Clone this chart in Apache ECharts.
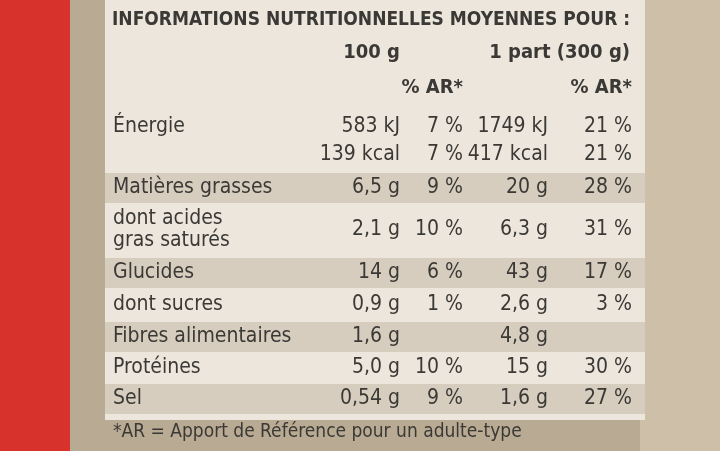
<!DOCTYPE html>
<html><head><meta charset="utf-8">
<script src="https://cdn.jsdelivr.net/npm/echarts@6/dist/echarts.min.js"></script>
<style>html,body{margin:0;padding:0}#c{width:720px;height:451px}</style>
</head><body><div id="c"></div>
<script>
const title = "INFORMATIONS NUTRITIONNELLES MOYENNES POUR :";
const colHeads = ["100 g", "1 part (300 g)"];
const arHead = "% AR*";
const labels = ["Énergie", "", "Matières grasses", "dont acides\ngras saturés", "Glucides", "dont sucres", "Fibres alimentaires", "Protéines", "Sel"];
const per100 = ["583 kJ", "139 kcal", "6,5 g", "2,1 g", "14 g", "0,9 g", "1,6 g", "5,0 g", "0,54 g"];
const ar100 = ["7 %", "7 %", "9 %", "10 %", "6 %", "1 %", "", "10 %", "9 %"];
const perPart = ["1749 kJ", "417 kcal", "20 g", "6,3 g", "43 g", "2,6 g", "4,8 g", "15 g", "1,6 g"];
const arPart = ["21 %", "21 %", "28 %", "31 %", "17 %", "3 %", "", "30 %", "27 %"];
const footnote = "*AR = Apport de Référence pour un adulte-type";

const rowY = [127, 155, 188, 230, 273, 305, 337, 368, 399];
const shade = [false, false, true, false, true, false, true, false, true];
const font = "'Liberation Sans Narrow','DejaVu Sans Condensed','Liberation Sans',sans-serif";
const col = '#3b3935';
const g = [];
g.push({type:'rect',shape:{x:0,y:0,width:720,height:451},style:{fill:'#b9aa93'}});
g.push({type:'rect',shape:{x:0,y:0,width:70,height:451},style:{fill:'#d8322c'}});
g.push({type:'rect',shape:{x:640,y:0,width:80,height:451},style:{fill:'#cdbfa8'}});
g.push({type:'rect',shape:{x:105,y:0,width:540,height:420},style:{fill:'#ece6dc'}});
rowY.forEach((y,i)=>{
  if(shade[i]) g.push({type:'rect',shape:{x:105,y:y-15,width:540,height:30},style:{fill:'#d6cdbf'}});
});
const txt=(x,y,s,align,size,weight)=>g.push({type:'text',x:x,y:y,style:{text:s,fill:col,font:(weight||'normal')+' '+(size||21)+'px '+font,textAlign:align||'left',textVerticalAlign:'middle',lineHeight:22}});
txt(112,20,title,'left',19,'bold');
txt(400,53,colHeads[0],'right',20,'bold');
txt(630,53,colHeads[1],'right',20,'bold');
txt(463,88,arHead,'right',20,'bold');
txt(632,88,arHead,'right',20,'bold');
rowY.forEach((y,i)=>{
  if(labels[i]) txt(113,y,labels[i],'left',21);
  txt(400,y,per100[i],'right',21);
  txt(463,y,ar100[i],'right',21);
  txt(548,y,perPart[i],'right',21);
  txt(632,y,arPart[i],'right',21);
});
txt(113,432,footnote,'left',19);
const chart = echarts.init(document.getElementById('c'));
chart.setOption({animation:false,graphic:g});
</script></body></html>
